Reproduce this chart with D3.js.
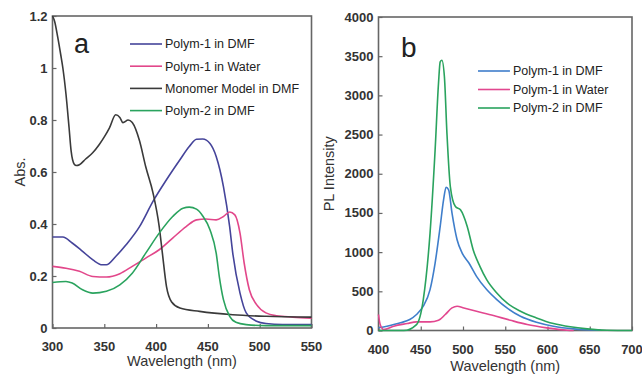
<!DOCTYPE html>
<html>
<head>
<meta charset="utf-8">
<script src="https://cdn.jsdelivr.net/npm/d3@7"></script>
<style>
  body { margin: 0; background: #fff; }
  text { font-family: "Liberation Sans", Arial, sans-serif; fill: #222; }
</style>
</head>
<body>
<svg id="chart" width="642" height="376"></svg>
<script>
// ---- panel a: absorption ----
const absTicksX = [300, 350, 400, 450, 500, 550];
const absTicksY = [0, 0.2, 0.4, 0.6, 0.8, 1, 1.2];

const monomerX = [300, 302, 305, 308, 310, 313, 316, 318, 321, 323, 326, 332, 339, 345, 350, 355, 361, 365, 368, 373, 377, 384, 390, 397, 403, 406, 410, 415, 423, 442, 474, 506, 550];
const monomerY = [1.2, 1.18, 1.12, 1.05, 1.0, 0.9, 0.77, 0.68, 0.63, 0.625, 0.628, 0.65, 0.675, 0.705, 0.735, 0.77, 0.82, 0.81, 0.79, 0.80, 0.79, 0.72, 0.62, 0.52, 0.39, 0.29, 0.16, 0.10, 0.077, 0.064, 0.051, 0.045, 0.042];

const polym1DmfX = [300, 310, 319, 329, 339, 348, 352, 361, 371, 384, 397, 410, 423, 432, 439, 445, 452, 458, 465, 471, 474, 481, 487, 497, 506, 522, 550];
const polym1DmfY = [0.35, 0.35, 0.327, 0.295, 0.262, 0.243, 0.243, 0.275, 0.32, 0.39, 0.487, 0.57, 0.647, 0.698, 0.726, 0.727, 0.71, 0.66, 0.544, 0.39, 0.288, 0.134, 0.058, 0.026, 0.017, 0.013, 0.013];

const polym1WaterX = [300, 313, 326, 339, 352, 365, 377, 390, 403, 416, 429, 439, 448, 458, 465, 471, 476, 481, 485, 490, 497, 506, 516, 532, 550];
const polym1WaterY = [0.237, 0.23, 0.218, 0.198, 0.196, 0.209, 0.237, 0.269, 0.301, 0.346, 0.39, 0.416, 0.419, 0.416, 0.429, 0.446, 0.435, 0.365, 0.25, 0.147, 0.09, 0.058, 0.047, 0.042, 0.038];

const polym2DmfX = [300, 313, 319, 329, 339, 352, 365, 377, 390, 403, 416, 426, 432, 439, 445, 452, 458, 461, 465, 471, 477, 487, 506, 550];
const polym2DmfY = [0.175, 0.179, 0.173, 0.147, 0.134, 0.141, 0.166, 0.211, 0.288, 0.365, 0.429, 0.461, 0.465, 0.457, 0.431, 0.378, 0.288, 0.198, 0.109, 0.045, 0.022, 0.013, 0.009, 0.009];

const absLegend = ["Polym-1 in DMF", "Polym-1 in Water", "Monomer Model in DMF", "Polym-2 in DMF"];

// ---- panel b: photoluminescence ----
const plTicksX = [400, 450, 500, 550, 600, 650, 700];
const plTicksY = [0, 500, 1000, 1500, 2000, 2500, 3000, 3500, 4000];

const plPolym1DmfX = [400, 410, 426, 437, 445, 453, 461, 467, 473, 477, 480, 483, 487, 493, 499, 507, 516, 528, 540, 552, 568, 587, 607, 631, 663];
const plPolym1DmfY = [34, 55, 98, 140, 204, 310, 522, 861, 1328, 1667, 1828, 1794, 1497, 1158, 988, 861, 691, 522, 394, 288, 182, 106, 55, 21, 4];

const plPolym1WaterX = [400, 402, 406, 418, 434, 445, 461, 471, 479, 487, 493, 501, 516, 536, 556, 576, 599, 623, 631];
const plPolym1WaterY = [204, 76, 13, 55, 89, 110, 110, 130, 204, 288, 310, 288, 246, 191, 131, 76, 34, 4, 0];

const plPolym2DmfX = [400, 430, 445, 453, 461, 467, 471, 473, 475, 478, 481, 485, 491, 497, 505, 512, 520, 528, 540, 552, 568, 587, 607, 627, 647, 670, 700];
const plPolym2DmfY = [0, 0, 76, 395, 1243, 2303, 3152, 3427, 3449, 3237, 2515, 1837, 1582, 1540, 1328, 1031, 819, 649, 479, 352, 246, 161, 89, 47, 21, 4, 0];

const plLegend = ["Polym-1 in DMF", "Polym-1 in Water", "Polym-2 in DMF"];

const zip = (xs, ys) => xs.map((x, i) => [x, ys[i]]);

const panels = [
    {
        left: 52.5, right: 311.5, top: 16, bottom: 328,
        xDomain: [300, 550], yDomain: [0, 1.2],
        xTicks: absTicksX, yTicks: absTicksY,
        yFormat: d => d3.format("~g")(d),
        yTitle: "Abs.", yTitleX: 20, xTitleY: 366,
        letter: "a", letterX: 74, letterY: 53, letterSize: 27,
        series: [
            { name: absLegend[0], color: "#45449a", pts: zip(polym1DmfX, polym1DmfY) },
            { name: absLegend[1], color: "#e2478a", pts: zip(polym1WaterX, polym1WaterY) },
            { name: absLegend[2], color: "#3a3a3a", pts: zip(monomerX, monomerY) },
            { name: absLegend[3], color: "#2aa35e", pts: zip(polym2DmfX, polym2DmfY) }
        ],
        legendX: 130, legendY: 44, legendStep: 22.2
    },
    {
        left: 378.5, right: 632, top: 17, bottom: 330.5,
        xDomain: [400, 700], yDomain: [0, 4000],
        xTicks: plTicksX, yTicks: plTicksY,
        yFormat: d => String(d),
        yTitle: "PL Intensity", yTitleX: 329, xTitleY: 371,
        letter: "b", letterX: 401, letterY: 57, letterSize: 28,
        series: [
            { name: plLegend[0], color: "#3f7ecb", pts: zip(plPolym1DmfX, plPolym1DmfY) },
            { name: plLegend[1], color: "#e2478f", pts: zip(plPolym1WaterX, plPolym1WaterY) },
            { name: plLegend[2], color: "#2aa35e", pts: zip(plPolym2DmfX, plPolym2DmfY) }
        ],
        legendX: 478, legendY: 71, legendStep: 18.5
    }
];

const svg = d3.select("#chart");

panels.forEach(p => {
    const x = d3.scaleLinear().domain(p.xDomain).range([p.left, p.right]);
    const y = d3.scaleLinear().domain(p.yDomain).range([p.bottom, p.top]);
    const g = svg.append("g");

    // frame
    g.append("rect")
        .attr("x", p.left).attr("y", p.top)
        .attr("width", p.right - p.left).attr("height", p.bottom - p.top)
        .attr("fill", "none").attr("stroke", "#666").attr("stroke-width", 1.6);

    // inward ticks
    const xAxis = g.append("g")
        .attr("transform", "translate(0," + p.bottom + ")")
        .call(d3.axisTop(x).tickValues(p.xTicks).tickSize(4).tickFormat(""));
    xAxis.select(".domain").remove();
    xAxis.selectAll("line").attr("stroke", "#666").attr("stroke-width", 1.2);

    const yAxis = g.append("g")
        .attr("transform", "translate(" + p.left + ",0)")
        .call(d3.axisRight(y).tickValues(p.yTicks).tickSize(4).tickFormat(""));
    yAxis.select(".domain").remove();
    yAxis.selectAll("line").attr("stroke", "#666").attr("stroke-width", 1.2);

    // tick labels
    g.selectAll(".xl").data(p.xTicks).join("text")
        .attr("x", x).attr("y", p.bottom + 23)
        .attr("text-anchor", "middle")
        .style("font-size", "13px").style("font-weight", "bold").style("fill", "#333")
        .text(d => d);
    g.selectAll(".yl").data(p.yTicks).join("text")
        .attr("x", p.left - 5).attr("y", y).attr("dy", "0.35em")
        .attr("text-anchor", "end")
        .style("font-size", "13px").style("font-weight", "bold").style("fill", "#333")
        .text(p.yFormat);

    // titles
    g.append("text")
        .attr("x", (p.left + p.right) / 2).attr("y", p.xTitleY)
        .attr("text-anchor", "middle")
        .style("font-size", "14.5px").style("fill", "#333")
        .text("Wavelength (nm)");
    g.append("text")
        .attr("transform", "translate(" + p.yTitleX + "," + ((p.top + p.bottom) / 2) + ") rotate(-90)")
        .attr("text-anchor", "middle").attr("dy", "0.35em")
        .style("font-size", "14.5px").style("fill", "#333")
        .text(p.yTitle);

    // panel letter
    g.append("text")
        .attr("x", p.letterX).attr("y", p.letterY)
        .style("font-size", p.letterSize + "px")
        .text(p.letter);

    // curves
    const line = d3.line().x(d => x(d[0])).y(d => y(d[1])).curve(d3.curveMonotoneX);
    g.selectAll(".curve").data(p.series).join("path")
        .attr("fill", "none")
        .attr("stroke", d => d.color).attr("stroke-width", 1.6)
        .attr("d", d => line(d.pts));

    // legend
    const leg = g.selectAll(".leg").data(p.series).join("g")
        .attr("transform", (d, i) => "translate(" + p.legendX + "," + (p.legendY + i * p.legendStep) + ")");
    leg.append("line")
        .attr("x1", 0).attr("x2", 32)
        .attr("stroke", d => d.color).attr("stroke-width", 1.6);
    leg.append("text")
        .attr("x", 35).attr("dy", "0.35em")
        .style("font-size", "12.5px").style("fill", "#222")
        .text(d => d.name);
});
</script>
</body>
</html>
